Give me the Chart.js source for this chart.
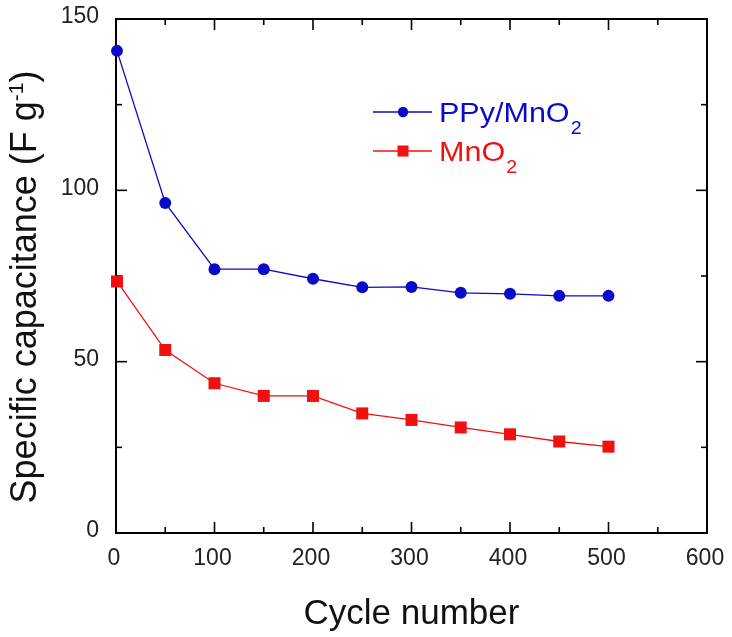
<!DOCTYPE html>
<html>
<head>
<meta charset="utf-8">
<script src="https://cdn.jsdelivr.net/npm/chart.js@4.4.1/dist/chart.umd.min.js"></script>
<style>
  html, body { margin: 0; padding: 0; background: #fff; }
  #wrap { width: 732px; height: 637px; position: relative; }
</style>
</head>
<body>
<div id="wrap"><canvas id="c"></canvas></div>
<script>
// ---- data ----
const cycles = [1, 50, 100, 150, 200, 250, 300, 350, 400, 450, 500];
const ppyMnO2 = [140.7, 96.3, 77.0, 77.0, 74.2, 71.7, 71.8, 70.1, 69.8, 69.2, 69.2];
const mnO2 = [73.4, 53.4, 43.7, 40.0, 40.0, 34.9, 33.0, 30.8, 28.8, 26.7, 25.2];
const xTicks = [0, 100, 200, 300, 400, 500, 600];
const yTicks = [0, 50, 100, 150];
const xMinorTicks = [50, 150, 250, 350, 450, 550];
const yMinorTicks = [25, 75, 125];
const seriesNames = ['PPy/MnO', 'MnO'];

const BLUE = '#0a0ac8';
const RED = '#f01010';
const FONT = '"Liberation Sans", Arial, sans-serif';

const toPts = (ys) => cycles.map((x, i) => ({ x: x, y: ys[i] }));

const framePlugin = {
  id: 'frame',
  beforeDatasetsDraw(chart) {
    const { ctx, chartArea: a, scales } = chart;
    const xs = scales.x, ys = scales.y;
    ctx.save();
    ctx.strokeStyle = '#000';
    ctx.lineWidth = 2;
    ctx.strokeRect(a.left, a.top, a.right - a.left, a.bottom - a.top);
    ctx.lineWidth = 1.6;
    const tick = (x1, y1, x2, y2) => { ctx.beginPath(); ctx.moveTo(x1, y1); ctx.lineTo(x2, y2); ctx.stroke(); };
    xTicks.forEach(v => { const p = xs.getPixelForValue(v); tick(p, a.bottom, p, a.bottom - 11); tick(p, a.top, p, a.top + 11); });
    xMinorTicks.forEach(v => { const p = xs.getPixelForValue(v); tick(p, a.bottom, p, a.bottom - 6); tick(p, a.top, p, a.top + 6); });
    yTicks.forEach(v => { const p = ys.getPixelForValue(v); tick(a.left, p, a.left + 11, p); tick(a.right, p, a.right - 11, p); });
    yMinorTicks.forEach(v => { const p = ys.getPixelForValue(v); tick(a.left, p, a.left + 6, p); tick(a.right, p, a.right - 6, p); });
    ctx.restore();
  },
  afterDraw(chart) {
    const { ctx, chartArea: a } = chart;
    ctx.save();
    // X title
    ctx.fillStyle = '#111';
    ctx.font = '35px ' + FONT;
    ctx.textAlign = 'center';
    ctx.textBaseline = 'alphabetic';
    ctx.fillText('Cycle number', (a.left + a.right) / 2, 624);

    // Y title with superscript
    ctx.save();
    ctx.translate(36, 287);
    ctx.rotate(-Math.PI / 2);
    const main = 'Specific capacitance (F g';
    const sup = '-1';
    const tail = ')';
    ctx.font = '36px ' + FONT;
    const wMain = ctx.measureText(main).width;
    const wTail = ctx.measureText(tail).width;
    ctx.font = '21px ' + FONT;
    const wSup = ctx.measureText(sup).width;
    const total = wMain + wSup + wTail;
    let x0 = -total / 2;
    ctx.textAlign = 'left';
    ctx.font = '36px ' + FONT;
    ctx.fillText(main, x0, 0);
    ctx.font = '21px ' + FONT;
    ctx.fillText(sup, x0 + wMain, -13);
    ctx.font = '36px ' + FONT;
    ctx.fillText(tail, x0 + wMain + wSup, 0);
    ctx.restore();

    // Legend
    const items = [
      { name: seriesNames[0], color: BLUE, y: 112, style: 'circle' },
      { name: seriesNames[1], color: RED, y: 151, style: 'rect' }
    ];
    items.forEach(it => {
      ctx.strokeStyle = it.color;
      ctx.fillStyle = it.color;
      ctx.lineWidth = 1.4;
      ctx.beginPath(); ctx.moveTo(373, it.y); ctx.lineTo(432, it.y); ctx.stroke();
      if (it.style === 'circle') {
        ctx.beginPath(); ctx.arc(403, it.y, 5.2, 0, Math.PI * 2); ctx.fill();
      } else {
        ctx.fillRect(403 - 5.5, it.y - 5.5, 11, 11);
      }
      ctx.save();
      ctx.translate(439, it.y + 10);
      ctx.scale(1.09, 1);
      ctx.font = '28px ' + FONT;
      ctx.textAlign = 'left';
      ctx.textBaseline = 'alphabetic';
      ctx.fillText(it.name, 0, 0);
      const w = ctx.measureText(it.name).width;
      ctx.font = '18px ' + FONT;
      ctx.fillText('2', w + 1, 12);
      ctx.restore();
    });
    ctx.restore();
  }
};

const zeroPad = (s) => { s.paddingTop = 0; s.paddingBottom = 0; s.paddingLeft = 0; s.paddingRight = 0; };

new Chart(document.getElementById('c'), {
  type: 'scatter',
  data: {
    datasets: [
      {
        label: 'PPy/MnO2',
        data: toPts(ppyMnO2),
        showLine: true,
        borderColor: BLUE,
        backgroundColor: BLUE,
        borderWidth: 1.3,
        pointStyle: 'circle',
        pointRadius: 6,
        pointBorderWidth: 0,
        pointHoverRadius: 6,
        clip: false
      },
      {
        label: 'MnO2',
        data: toPts(mnO2),
        showLine: true,
        borderColor: RED,
        backgroundColor: RED,
        borderWidth: 1.3,
        pointStyle: 'rect',
        pointRadius: 8.5,
        pointBorderWidth: 0,
        pointHoverRadius: 8.5,
        clip: false
      }
    ]
  },
  options: {
    responsive: true,
    maintainAspectRatio: false,
    animation: false,
    devicePixelRatio: 1,
    layout: { padding: { left: 0, top: 19, right: 25, bottom: 0 } },
    plugins: { legend: { display: false }, tooltip: { enabled: false } },
    scales: {
      x: {
        type: 'linear',
        min: 0, max: 600,
        afterFit(s) { s.height = 104; zeroPad(s); },
        afterBuildTicks(s) { s.ticks = xTicks.map(v => ({ value: v })); },
        grid: { display: false, drawTicks: false },
        border: { display: false },
        ticks: { color: '#222', font: { size: 23, family: FONT }, padding: 12, labelOffset: -2, maxRotation: 0 }
      },
      y: {
        type: 'linear',
        min: 0, max: 150,
        afterFit(s) { s.width = 116; zeroPad(s); },
        afterBuildTicks(s) { s.ticks = yTicks.map(v => ({ value: v })); },
        grid: { display: false, drawTicks: false },
        border: { display: false },
        ticks: { color: '#222', font: { size: 23, family: FONT }, padding: 17, labelOffset: -2 }
      }
    }
  },
  plugins: [framePlugin]
});
</script>
</body>
</html>
